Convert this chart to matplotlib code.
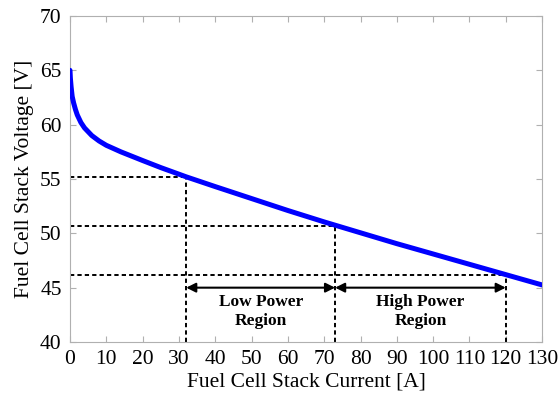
import numpy as np
import matplotlib
matplotlib.use("Agg")
from matplotlib import pyplot as plt

# polarization curve
current = [0, 0.1, 0.3, 0.6, 1, 1.5, 2, 3, 4, 6, 8, 10, 14, 20, 25, 32, 40, 50, 60, 70, 73, 80,
           90, 100, 110, 120, 130]
voltage = [65.0, 64.3, 63.5, 62.6, 62.0, 61.4, 60.9, 60.2, 59.7, 59.0, 58.5, 58.1, 57.5, 56.7,
           56.05, 55.2, 54.3, 53.2, 52.1, 51.05, 50.75, 50.05, 49.05, 48.1, 47.15, 46.2, 45.25]

# operating points marked with dotted guides
mark_i = [32, 73, 120]
mark_v = [55.2, 50.7, 46.2]

region_labels = ["Low Power\nRegion", "High Power\nRegion"]
arrow_v = 45.0

plt.rcParams['font.family'] = ['Liberation Serif', 'DejaVu Serif']

fig = plt.figure(figsize=(5.6, 4.0), dpi=100)
ax = fig.add_axes([0.125, 0.145, 0.843, 0.815])

ax.plot(current, voltage, color="#0000ff", lw=3.6, solid_capstyle="round",
        solid_joinstyle="round", zorder=3)

dash = (0, (2.2, 1.6))
for i, v in zip(mark_i, mark_v):
    ax.plot([0, i], [v, v], color="black", lw=1.4, ls=dash, zorder=2)
    ax.plot([i, i], [40, v], color="black", lw=1.4, ls=dash, zorder=2)

for k in range(2):
    ax.annotate("", xy=(mark_i[k], arrow_v), xytext=(mark_i[k + 1], arrow_v),
                arrowprops=dict(arrowstyle="<|-|>", color="black", lw=1.5,
                                mutation_scale=14, shrinkA=0, shrinkB=0))
    ax.text((mark_i[k] + mark_i[k + 1]) / 2, 42.8, region_labels[k], ha="center", va="center",
            fontsize=12.5, fontweight="bold", linespacing=1.25)

ax.set_xlim(0, 130)
ax.set_ylim(40, 70)
ax.set_xticks(np.arange(0, 131, 10))
ax.set_yticks(np.arange(40, 71, 5))
ax.tick_params(direction="in", length=4, color="#b0b0b0", labelsize=15.5, top=True, right=True, pad=6)
for s in ax.spines.values():
    s.set_color("#b0b0b0")

ax.set_xlabel("Fuel Cell Stack Current [A]", fontsize=15.5, labelpad=2)
ax.set_ylabel("Fuel Cell Stack Voltage [V]", fontsize=15.5, labelpad=4)

plt.savefig("out.png", dpi=100)
